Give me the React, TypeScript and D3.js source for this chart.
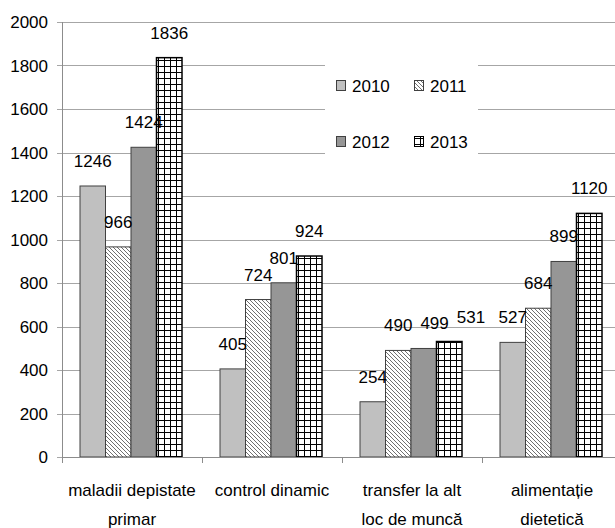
import React from "react";
import * as d3 from "d3";

// Categories and series
const categories = [
  ["maladii depistate", "primar"],
  ["control dinamic"],
  ["transfer la alt", "loc de muncă"],
  ["alimentație", "dietetică"],
];
const seriesNames = ["2010", "2011", "2012", "2013"];
const values2010 = [1246, 405, 254, 527];
const values2011 = [966, 724, 490, 684];
const values2012 = [1424, 801, 499, 899];
const values2013 = [1836, 924, 531, 1120];
const yTicks = [0, 200, 400, 600, 800, 1000, 1200, 1400, 1600, 1800, 2000];

const seriesValues = [values2010, values2011, values2012, values2013];
const fills = ["#c0c0c0", "url(#hatch)", "#969696", "url(#grid)"];
const strokes = ["#404040", "#404040", "#404040", "#000000"];

const W = 615;
const H = 528;
const FONT = "Arial, 'Liberation Sans', sans-serif";
const FS = 17;
const LABEL_GAP = 19; // baseline distance above bar top
const DIGIT_W = FS * 0.556;

export default function App() {
  const catKeys = categories.map((c) => c.join(" "));
  const x = d3.scaleBand<string>().domain(catKeys).range([62, 622]).padding(0);
  const xs = d3
    .scaleBand<string>()
    .domain(seriesNames)
    .range([18, x.bandwidth() - 20])
    .padding(0);
  const y = d3.scaleLinear().domain([0, 2000]).range([457, 22]);
  const plotRight = W;

  // Value labels: centred above each bar, pushed right when they would
  // collide with the previous label in the same group.
  const labels: { key: string; v: number; cx: number; by: number }[] = [];
  catKeys.forEach((c, ci) => {
    let prev: { right: number; by: number } | null = null;
    seriesNames.forEach((s, si) => {
      const v = seriesValues[si][ci];
      const w = String(v).length * DIGIT_W;
      let cx = x(c)! + xs(s)! + xs.bandwidth() / 2;
      const by = y(v) - LABEL_GAP;
      if (prev && Math.abs(prev.by - by) < 15 && cx - w / 2 < prev.right + 8) {
        cx = prev.right + 8 + w / 2;
      }
      labels.push({ key: c + s, v, cx, by });
      prev = { right: cx + w / 2, by };
    });
  });

  return (
    <svg
      width={W}
      height={H}
      style={{ position: "absolute", left: 0, top: 0, background: "#fff" }}
      fontFamily={FONT}
    >
      <defs>
        <pattern id="hatch" patternUnits="userSpaceOnUse" width={4} height={4}>
          <rect width={4} height={4} fill="#fff" />
          <path d="M-1,-1 L5,5 M-1,3 L1,5 M3,-1 L5,1" stroke="#404040" strokeWidth={0.75} />
        </pattern>
        <pattern id="grid" patternUnits="userSpaceOnUse" width={6} height={6}>
          <rect width={6} height={6} fill="#fff" />
          <path d="M0,0 V6 M0,0 H6" stroke="#000" strokeWidth={2} />
        </pattern>
      </defs>

      {/* horizontal gridlines */}
      {yTicks.map((t) => (
        <line
          key={"g" + t}
          x1={57}
          x2={plotRight}
          y1={Math.round(y(t)) + 0.5}
          y2={Math.round(y(t)) + 0.5}
          stroke="#a6a6a6"
          strokeWidth={1}
        />
      ))}

      {/* y axis */}
      <line x1={62.5} x2={62.5} y1={y(2000)} y2={y(0)} stroke="#8c8c8c" />
      {yTicks.map((t) => (
        <text
          key={"yl" + t}
          x={48}
          y={y(t) + 6}
          textAnchor="end"
          fontSize={FS}
          fill="#000"
        >
          {t}
        </text>
      ))}

      {/* legend box */}
      <rect x={325} y={60} width={153} height={100} fill="#fff" />
      {seriesNames.map((s, i) => {
        const lx = i % 2 === 0 ? 336 : 414;
        const ly = i < 2 ? 80 : 136;
        return (
          <g key={"lg" + s}>
            <rect
              x={lx + 0.5}
              y={ly + 0.5}
              width={9}
              height={10}
              fill={fills[i]}
              stroke={strokes[i]}
              strokeWidth={1}
            />
            <text x={lx + 16} y={ly + 11.5} fontSize={FS} fill="#000">
              {s}
            </text>
          </g>
        );
      })}

      {/* bars */}
      {catKeys.map((c, ci) => (
        <g key={"c" + c} transform={`translate(${x(c)},0)`}>
          {seriesNames.map((s, si) => {
            const v = seriesValues[si][ci];
            const bx = xs(s)!;
            return (
              <rect
                key={s}
                x={bx}
                y={y(v)}
                width={xs.bandwidth()}
                height={y(0) - y(v)}
                fill={fills[si]}
                stroke={strokes[si]}
                strokeWidth={si === 3 ? 1.5 : 1}
              />
            );
          })}
        </g>
      ))}

      {/* value labels */}
      {labels.map((l) => (
        <text
          key={"v" + l.key}
          x={l.cx}
          y={l.by}
          textAnchor="middle"
          fontSize={FS}
          fill="#000"
        >
          {l.v}
        </text>
      ))}

      {/* x axis */}
      <line x1={62} x2={plotRight} y1={457.5} y2={457.5} stroke="#8c8c8c" />
      {catKeys.map((c) => (
        <line
          key={"t" + c}
          x1={Math.round(x(c)!) + 0.5}
          x2={Math.round(x(c)!) + 0.5}
          y1={457}
          y2={463}
          stroke="#8c8c8c"
        />
      ))}
      {categories.map((lines, ci) => (
        <text
          key={"cl" + ci}
          x={x(catKeys[ci])! + x.bandwidth() / 2}
          y={496}
          textAnchor="middle"
          fontSize={FS}
          fill="#000"
        >
          {lines.map((ln, li) => (
            <tspan key={li} x={x(catKeys[ci])! + x.bandwidth() / 2} dy={li === 0 ? 0 : 29}>
              {ln}
            </tspan>
          ))}
        </text>
      ))}
    </svg>
  );
}
